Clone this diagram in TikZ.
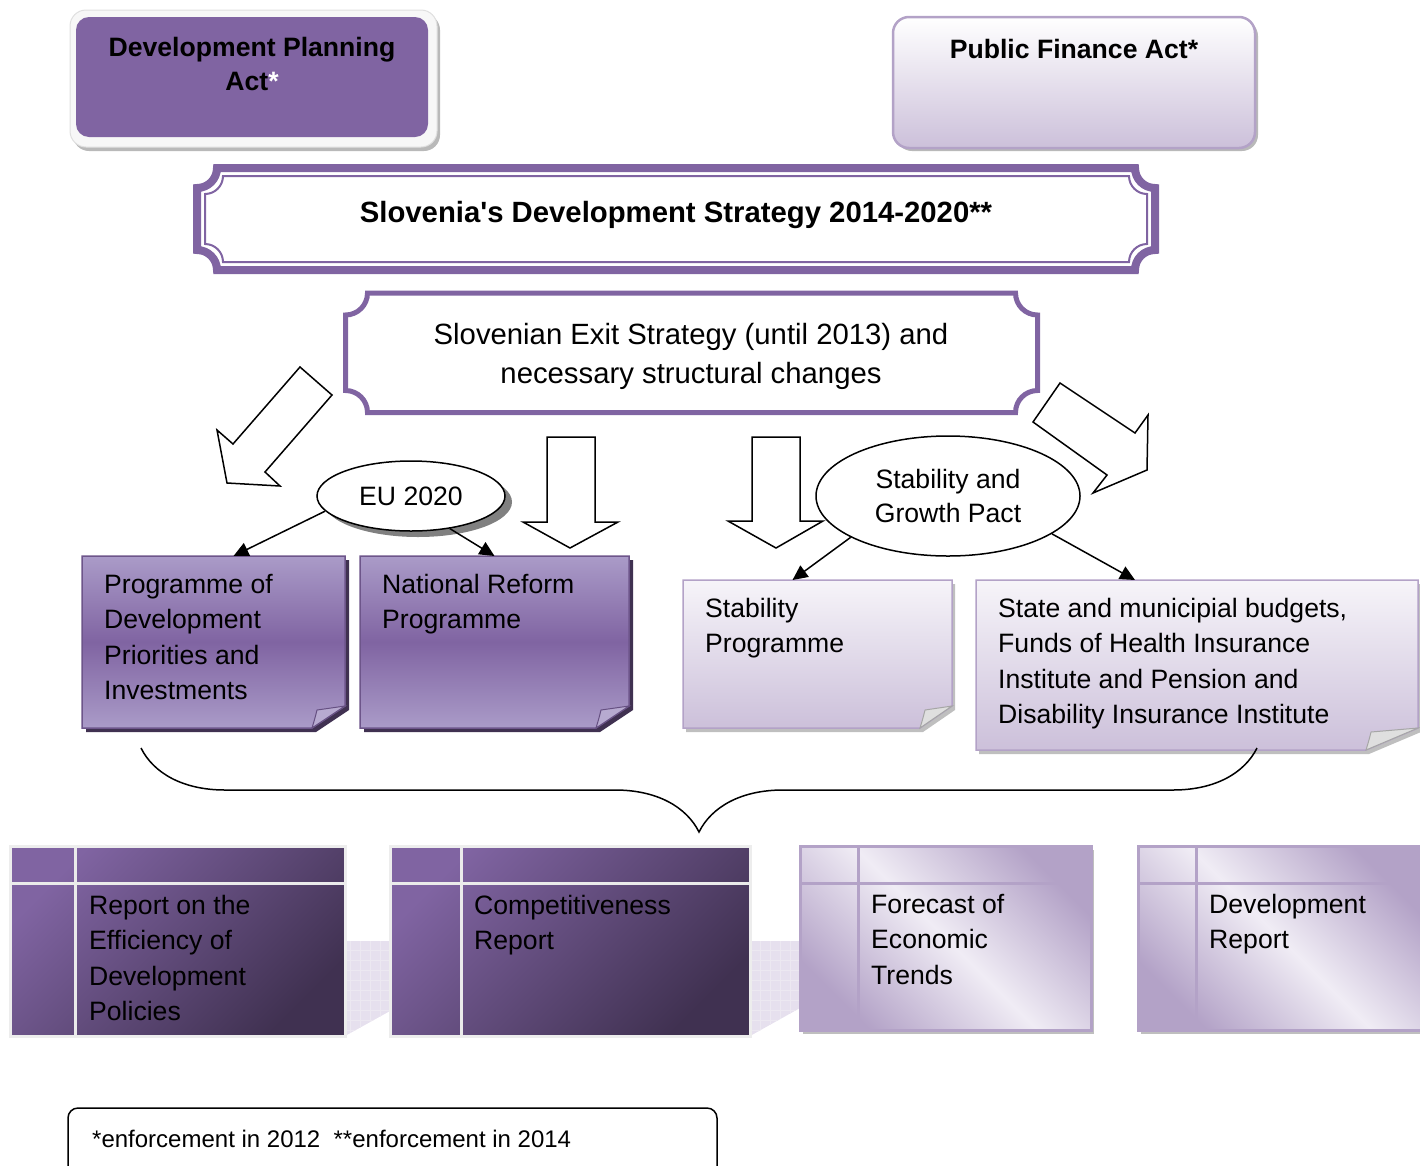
\documentclass[tikz,border=0pt]{standalone}
\usepackage{fontspec}
\setmainfont{Liberation Sans}
\usepackage{xcolor}
\usetikzlibrary{arrows.meta, positioning, shapes.geometric, calc, decorations.pathreplacing}

\definecolor{vio}{HTML}{8064A2}
\definecolor{viodk}{HTML}{403151}
\definecolor{viotop}{HTML}{AA9BC8}
\definecolor{violn}{HTML}{B3A2C7}
\definecolor{violt}{HTML}{CCC0DA}
\definecolor{viopl}{HTML}{E6E0EE}

\begin{document}
\begin{tikzpicture}[
  x=1pt, y=-1pt,
  txt/.style = {font=\fontsize{26.6}{35.3}\selectfont, align=left, inner sep=0pt, anchor=north west},
  hdtxt/.style = {font=\bfseries\fontsize{26.6}{34}\selectfont, align=center, inner sep=0pt, anchor=north},
  body/.style = {inner sep=0pt, outer sep=0pt, anchor=north west},
  blockarr/.style = {draw, fill=white, line width=1.5pt, line join=miter},
  arr/.style = {-{Triangle[length=15pt, width=14pt]}, line width=1.5pt},
  oval/.style = {ellipse, draw, fill=white, line width=1.5pt, inner sep=0pt, align=center,
                 font=\fontsize{26.6}{34}\selectfont},
  plaque/.style n args = {5}{insert path={(#1+#5,#2) -- (#3-#5,#2)
      arc[start angle=180, end angle=90, radius=#5] -- (#3,#4-#5)
      arc[start angle=270, end angle=180, radius=#5] -- (#1+#5,#4)
      arc[start angle=0, end angle=-90, radius=#5] -- (#1,#2+#5)
      arc[start angle=90, end angle=0, radius=#5] -- cycle}},
  tblgrid/.style 2 args = {path picture={
      \draw[line width=3pt, #2] ([xshift=#1]path picture bounding box.north west)
        -- ([xshift=#1]path picture bounding box.south west);
      \draw[line width=3pt, #2] ([yshift=-37pt]path picture bounding box.north west)
        -- ([yshift=-37pt]path picture bounding box.north east);}},
  darktbl/.style = {body, top color=vio, bottom color=viodk, shading angle=45,
                    draw=white!93!black, line width=3pt},
  lighttbl/.style = {body, top color=violn, bottom color=violn, middle color=viopl!60!white,
                     shading angle=-45, draw=violn, line width=3pt,
                     preaction={fill=gray!50, transform canvas={xshift=3pt, yshift=-4pt}}}
]
\useasboundingbox (0,0) rectangle (1420,1165);

% acts on top
\node[body, fill=gray!6, draw=gray!25, line width=1pt, rounded corners=16pt,
      minimum width=367pt, minimum height=137pt,
      preaction={fill=gray!55, transform canvas={xshift=3pt, yshift=-4pt}}] (dpaf) at (70,10) {};
\node[body, fill=vio, rounded corners=13pt, minimum width=352pt, minimum height=120pt] (dpa) at (76,17) {};
\node[hdtxt] (dpatxt) at (252,37) {Development Planning\\Act{\color{white}*}};

\node[body, rounded corners=16pt, minimum width=362pt, minimum height=131pt,
      top color=white, bottom color=violt, draw=violn, line width=2.5pt,
      preaction={fill=gray!55, transform canvas={xshift=3pt, yshift=-3pt}}] (pfa) at (893,17) {};
\node[hdtxt] (pfatxt) at (1074,39) {Public Finance Act*};

% strategy plaques
\draw[vio, line width=8pt, plaque={197}{168}{1155}{270}{20}];
\draw[vio, line width=2pt, plaque={205}{176}{1147}{262}{18}];
\node[font=\bfseries\fontsize{29.3}{35}\selectfont, inner sep=0pt, anchor=north] (dss) at (676,201.5)
  {Slovenia\textquotesingle s Development Strategy 2014-2020**};

\draw[vio, line width=5pt, plaque={345.5}{293}{1037.5}{412.5}{22}];
\node[font=\fontsize{29.3}{39}\selectfont, align=center, inner sep=0pt, anchor=north] (exit) at (691,323.5)
  {Slovenian Exit Strategy (until 2013) and\\necessary structural changes};

% block arrows
\draw[blockarr] (300,367) -- (332,395) -- (265,472) -- (280,486) -- (227,483) -- (217,430) -- (233,444) -- cycle;
\draw[blockarr] (547,437) -- (595,437) -- (595,522) -- (618,522) -- (570,548) -- (523,522) -- (547,522) -- cycle;
\draw[blockarr] (752,437) -- (800,437) -- (800,521) -- (823,521) -- (776,548) -- (728,521) -- (752,521) -- cycle;
\draw[blockarr] (1060,383) -- (1135,433) -- (1148,415) -- (1147,470) -- (1093,493) -- (1107,475) -- (1033,422) -- cycle;

% programmes
\node[body, minimum width=263pt, minimum height=172pt] (pdpi) at (82,556) {};
\node[body, minimum width=269pt, minimum height=172pt] (nrp) at (360,556) {};
\node[body, minimum width=269pt, minimum height=148pt] (stp) at (683,580) {};
\node[body, minimum width=442pt, minimum height=170pt] (smb) at (976,580) {};

\foreach \n in {pdpi, nrp} {
  \path[top color=viotop, bottom color=viotop, middle color=vio, draw=vio!85!black, line width=1.5pt,
        preaction={fill=viodk, transform canvas={xshift=4pt, yshift=-4pt}}]
    (\n.north west) -- (\n.north east) -- ([yshift=22pt]\n.south east)
    -- ([xshift=-33pt]\n.south east) -- (\n.south west) -- cycle;
  \filldraw[fill=viotop!85!white, draw=vio!80!black, line width=1pt]
    ([xshift=-33pt]\n.south east) .. controls ([xshift=-30pt, yshift=10pt]\n.south east)
    .. ([xshift=-28pt, yshift=18pt]\n.south east) -- ([yshift=22pt]\n.south east) -- cycle;
}
\foreach \n/\f in {stp/32, smb/52} {
  \path[top color=viopl!35!white, bottom color=violt, draw=violn, line width=1.5pt,
        preaction={fill=gray!50, transform canvas={xshift=3pt, yshift=-4pt}}]
    (\n.north west) -- (\n.north east) -- ([yshift=22pt]\n.south east)
    -- ([xshift=-\f pt]\n.south east) -- (\n.south west) -- cycle;
  \filldraw[fill=gray!25, draw=gray!70, line width=1pt]
    ([xshift=-\f pt]\n.south east) .. controls ([xshift=-\f pt+3pt, yshift=10pt]\n.south east)
    .. ([xshift=-\f pt+5pt, yshift=18pt]\n.south east) -- ([yshift=22pt]\n.south east) -- cycle;
}
\node[txt] (pdpitxt) at (104,574) {Programme of\\Development\\Priorities and\\Investments};
\node[txt] (nrptxt) at (382,574) {National Reform\\Programme};
\node[txt] (stptxt) at (705,598) {Stability\\Programme};
\node[txt] (smbtxt) at (998,598) {State and municipial budgets,\\Funds of Health Insurance\\Institute and Pension and\\Disability Insurance Institute};

% frameworks
\node[oval, minimum width=188pt, minimum height=70pt,
      preaction={fill=black!50, transform canvas={xshift=7pt, yshift=-6pt}}] (eu) at (411,496) {EU 2020};
\node[oval, minimum width=264pt, minimum height=120pt] (sgp) at (948,496) {Stability and\\Growth Pact};

\draw[arr] (eu.190) -- ([xshift=20pt]pdpi.north);
\draw[arr] (eu.-40) -- (nrp.north);
\draw[arr] (sgp.203) -- ([xshift=-25pt]stp.north);
\draw[arr] (sgp.-20) -- ([xshift=-62pt]smb.north);

% brace
\coordinate (bl) at (141,748);
\coordinate (br) at (1257,748);
\draw[decorate, decoration={brace, amplitude=84pt}, line width=1.5pt] (br) -- (bl);

% reports
\foreach \xa/\xb/\yb in {345/390/1011, 750/800/1008} {
  \fill[viopl] (\xa,941) -- (\xb,941) -- (\xb,\yb) -- (\xa,1036) -- cycle;
  \begin{scope}
    \clip (\xa,941) -- (\xb,941) -- (\xb,\yb) -- (\xa,1036) -- cycle;
    \draw[white!75!violn, line width=0.8pt, step=10pt] (\xa-5,930) grid (\xb+5,1040);
  \end{scope}
}
\node[darktbl, tblgrid={65pt}{white!92!black}, minimum width=335pt, minimum height=190pt] (ref) at (10,846) {};
\node[darktbl, tblgrid={71pt}{white!92!black}, minimum width=360pt, minimum height=190pt] (comp) at (390,846) {};
\node[lighttbl, tblgrid={58pt}{violn}, minimum width=291pt, minimum height=184pt] (fet) at (800,846) {};
\node[lighttbl, tblgrid={58pt}{violn}, minimum width=284pt, minimum height=184pt] (devr) at (1138,846) {};

\node[txt] (reftxt) at (89,895) {Report on the\\Efficiency of\\Development\\Policies};
\node[txt] (comptxt) at (474,895) {Competitiveness\\Report};
\node[txt] (fettxt) at (871,894) {Forecast of\\Economic\\Trends};
\node[txt] (devrtxt) at (1209,894) {Development\\Report};

% footnote
\node[body, draw, line width=1.5pt, rounded corners=10pt, minimum width=649pt, minimum height=90pt] (note) at (68,1108) {};
\node[font=\fontsize{24}{28}\selectfont, inner sep=0pt, anchor=north west] (notetxt) at (92,1130)
  {*enforcement in 2012\ \ **enforcement in 2014};
\end{tikzpicture}
\end{document}
